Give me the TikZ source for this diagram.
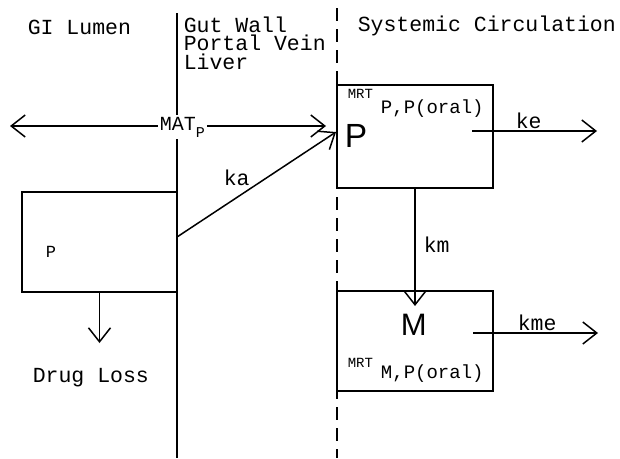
\documentclass[tikz,border=0pt]{standalone}
\usepackage{fontspec}
\setmainfont{Liberation Mono}
\newfontfamily\bigsans{Liberation Sans}
\usetikzlibrary{arrows.meta}
\newcommand{\mrtlbl}[2]{{\fontsize{14}{14}\selectfont MRT}\hspace{8pt}\raisebox{-#2pt}{\fontsize{19}{19}\selectfont #1}}
\begin{document}
\begin{tikzpicture}[x=1pt, y=-1pt, line width=1.5pt,
    every node/.style={font=\fontsize{21.5}{18.5}\selectfont, inner sep=0pt},
    comp/.style={draw, rectangle, minimum width=156pt, minimum height=101pt},
    flow/.style={-{Straight Barb[length=14pt, width=22pt]}},
    lbl/.style={anchor=base west}]
    \useasboundingbox (0,0) rectangle (620,458);
    % dividers between the regions
    \draw[line width=2pt] (177,13) -- (177,458);
    \draw[dash pattern=on 13pt off 8pt] (337,8) -- (337,458);
    % region titles
    \node[lbl] (lumen) at (27,34) {GI Lumen};
    \node[lbl, align=left] (wall) at (183,69) {Gut Wall\\Portal Vein\\Liver};
    \node[lbl] (systemic) at (357,31) {Systemic Circulation};
    % compartments
    \node[comp, minimum width=155pt, minimum height=100pt] (lumP) at (99.5,242) {};
    \node[comp, minimum height=103pt] (sysP) at (415,136.5) {};
    \node[comp, minimum height=100pt] (sysM) at (415,341) {};
    \node[lbl, font=\fontsize{17}{17}\selectfont] (pLum) at (45,257) {P};
    \node[lbl, font=\fontsize{33.5}{33.5}\selectfont\bigsans] (pSys) at (344,147) {P};
    \node[lbl, font=\fontsize{31}{31}\selectfont\bigsans] (mSys) at (400,335) {M};
    \node[lbl] (mrtP) at (347,98) {\mrtlbl{P,P(oral)}{15}};
    \node[lbl] (mrtM) at (347,367) {\mrtlbl{M,P(oral)}{11}};
    % mean absorption time
    \coordinate (matL) at (10,126);
    \coordinate (matR) at (326,126);
    \draw[{Straight Barb[length=14pt, width=22pt]}-{Straight Barb[length=14pt, width=22pt]}] (matL) -- (matR);
    \node[lbl, fill=white, inner sep=2pt] (mat) at (157,130) {\fontsize{20}{20}\selectfont MAT\raisebox{-7pt}{\fontsize{15}{15}\selectfont P}};
    % rate constants
    \coordinate (kaStart) at (177,237);
    \coordinate (kaEnd) at (336,132);
    \draw[flow] (kaStart) -- (kaEnd);
    \node[lbl] (ka) at (223,185) {ka};
    \coordinate (lossEnd) at (99.5,343);
    \draw[flow] (lumP.south) -- (lossEnd);
    \node[lbl] (loss) at (32,382) {Drug Loss};
    \coordinate (kmEnd) at (415,306);
    \draw[flow] (sysP.south) -- (kmEnd);
    \node[lbl] (km) at (423,252) {km};
    \coordinate (keStart) at (472,131);
    \coordinate (keEnd) at (597,131);
    \draw[flow] (keStart) -- (keEnd);
    \node[lbl] (ke) at (515,128) {ke};
    \coordinate (kmeStart) at (473,333);
    \coordinate (kmeEnd) at (598,333);
    \draw[flow] (kmeStart) -- (kmeEnd);
    \node[lbl] (kme) at (517,330) {kme};
\end{tikzpicture}
\end{document}
